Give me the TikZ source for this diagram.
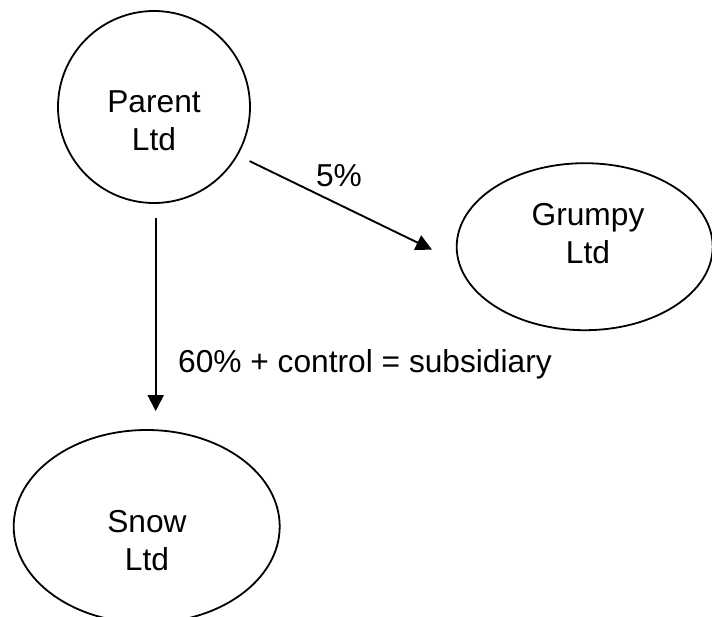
\documentclass[tikz,border=0pt]{standalone}
\usepackage{fontspec}
\setmainfont{Liberation Sans}
\usetikzlibrary{shapes.geometric, arrows.meta}

\begin{document}
\begin{tikzpicture}[
    x=1pt, y=-1pt,
    firm/.style={draw, line width=1.8pt, inner sep=0pt},
    firmtext/.style={align=center, inner sep=0pt, font=\fontsize{31.7}{38}\selectfont},
    share/.style={inner sep=0pt, font=\fontsize{31.7}{38}\selectfont},
    arrow/.style={-{Triangle[length=16pt, width=16pt]}, line width=1.9pt}
  ]
    \useasboundingbox (0,0) rectangle (712,616);

    % Parent
    \node[firm, circle, minimum size=192pt] (parent) at (154,107) {};
    \node[firmtext] (parenttxt) at (154,121) {Parent\\Ltd};
    % Grumpy
    \node[firm, ellipse, minimum width=256pt, minimum height=167pt] (grumpy) at (584.7,246.7) {};
    \node[firmtext] (grumpytxt) at (588,234) {Grumpy\\Ltd};
    % Snow
    \node[firm, ellipse, minimum width=266pt, minimum height=193pt] (snow) at (146.7,526.5) {};
    \node[firmtext] (snowtxt) at (147,541) {Snow\\Ltd};

    % Holdings
    \draw[arrow, shorten <=13pt, shorten >=29pt] (parent.-30) -- (grumpy.187);
    \draw[arrow, shorten <=14pt, shorten >=18pt] (parent.-89) -- (parent.-89 |- snow.north);
    \node[share, anchor=base] (fivepct) at (339,186) {5\%};
    \node[share, anchor=base west] (subsid) at (178,372) {60\% + control = subsidiary};
\end{tikzpicture}
\end{document}
